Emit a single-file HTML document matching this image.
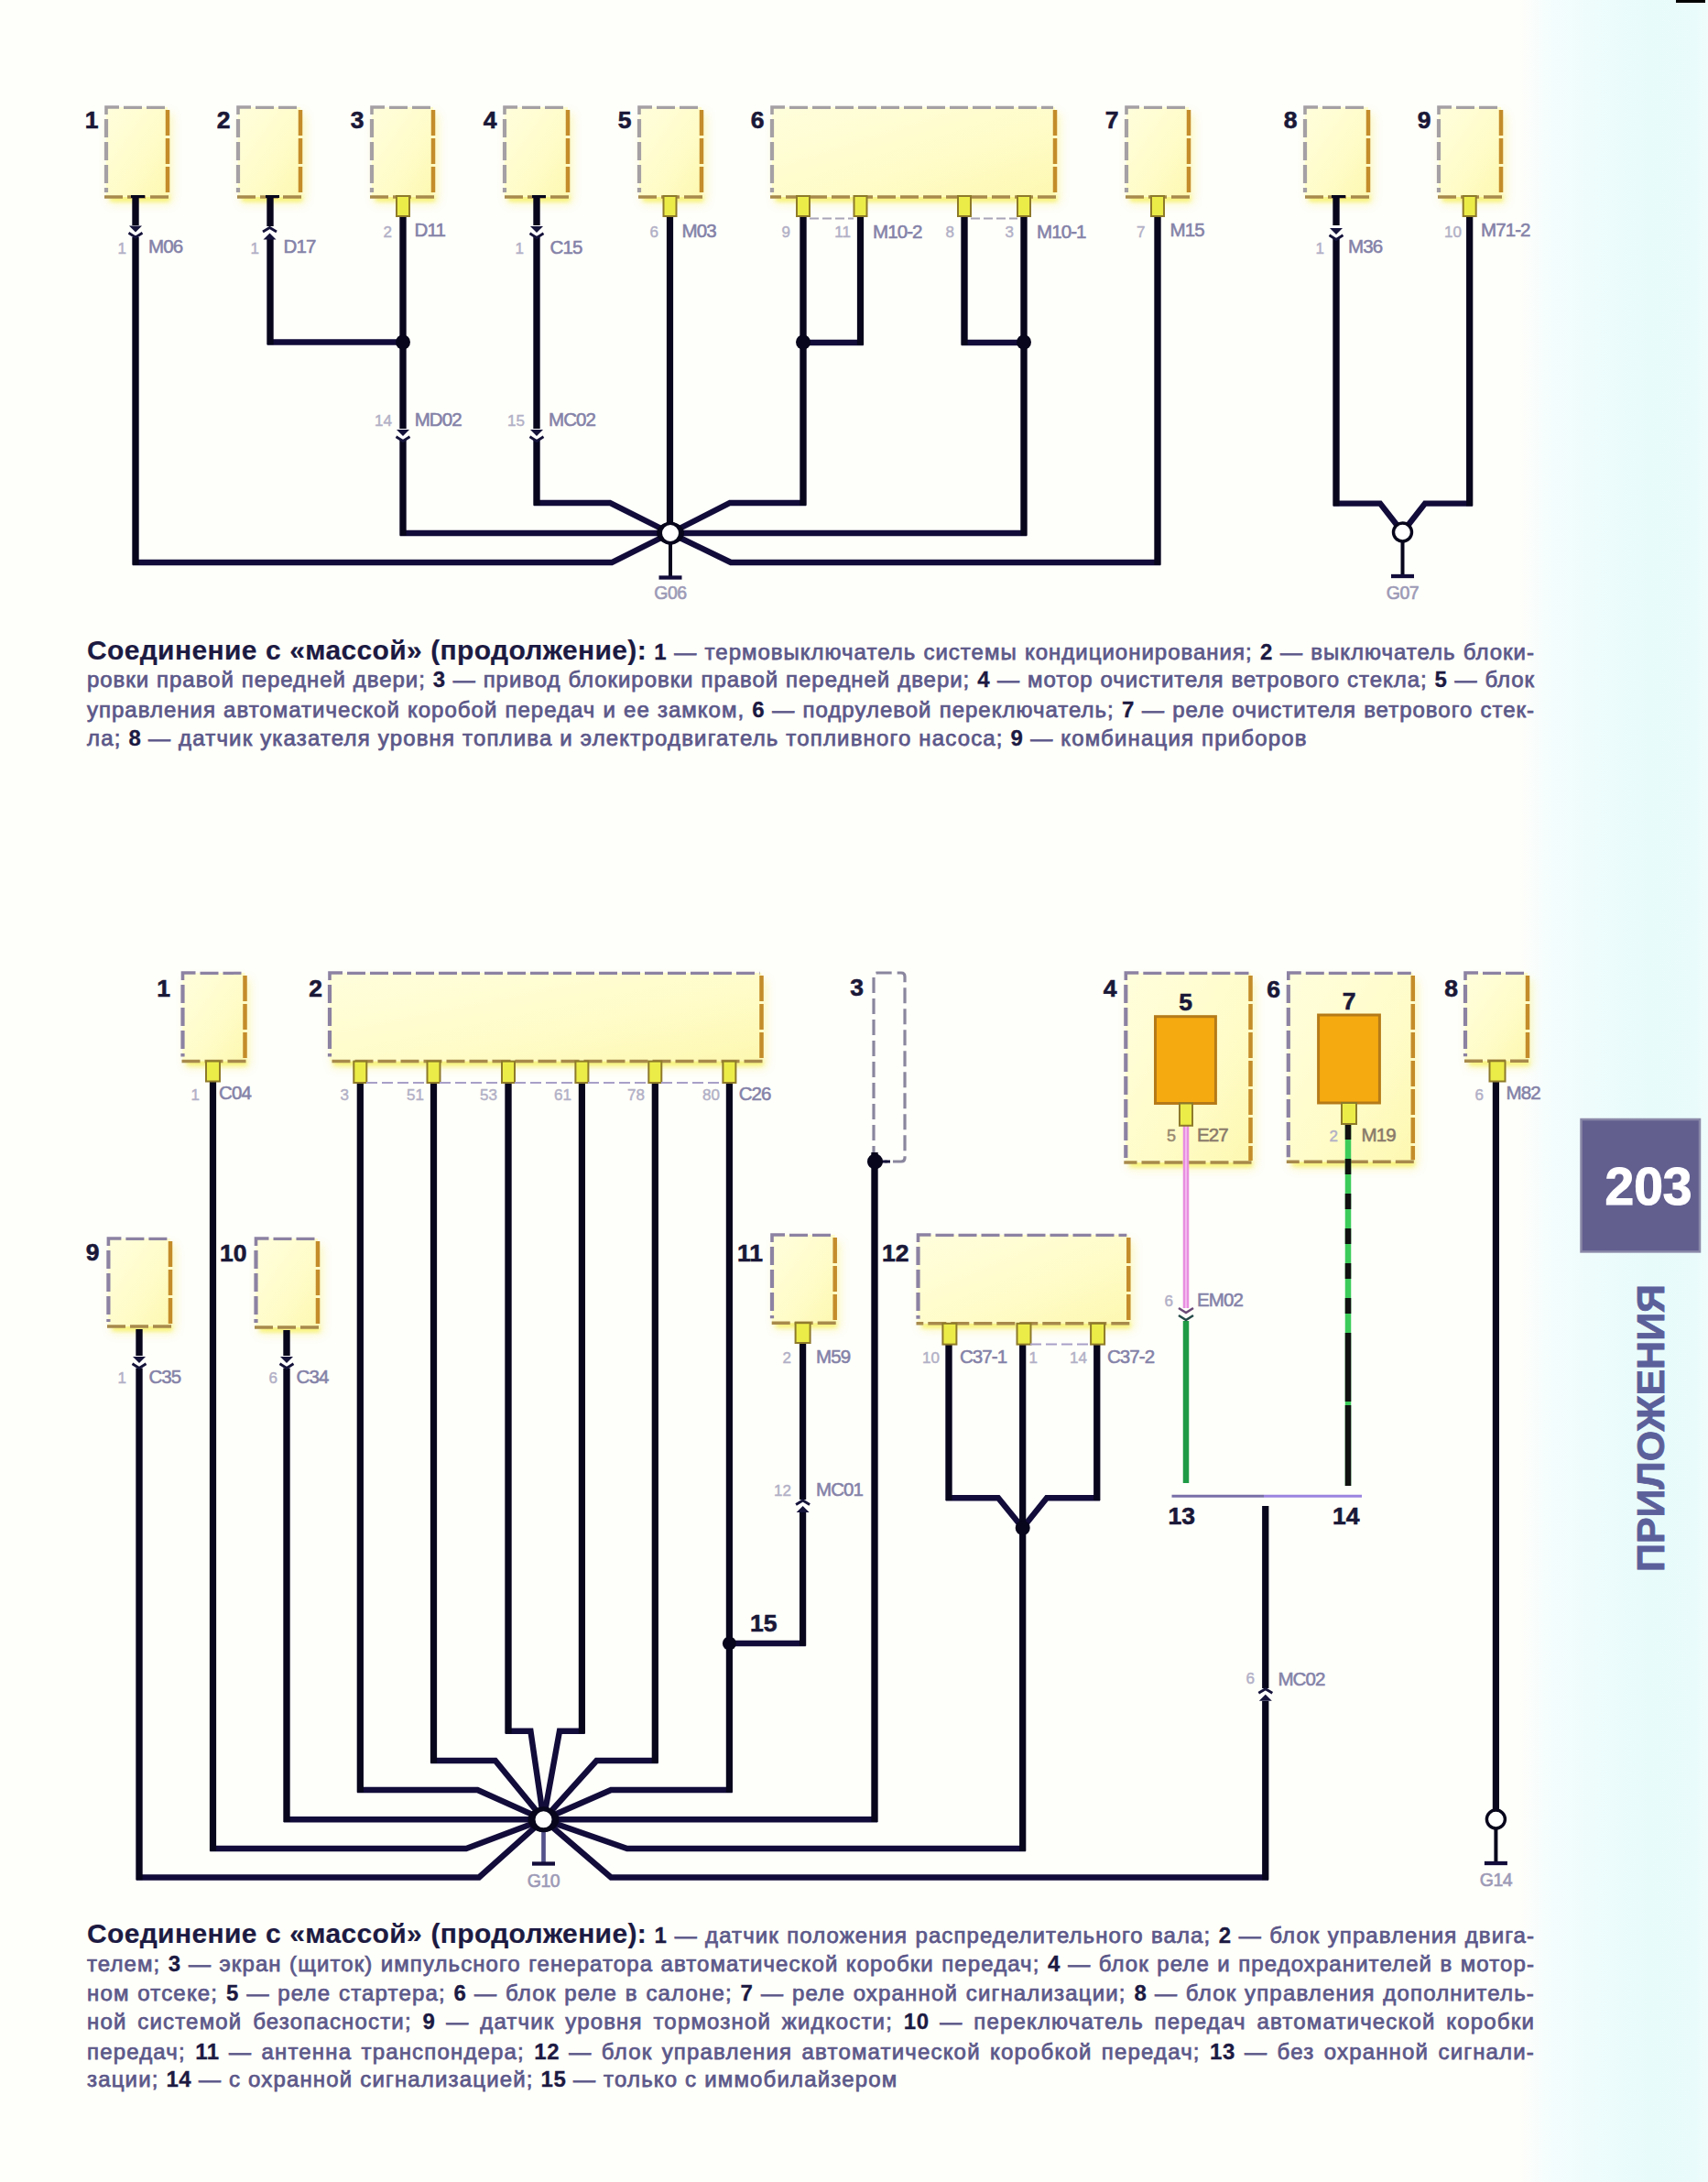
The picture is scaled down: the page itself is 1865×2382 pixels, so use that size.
<!DOCTYPE html>
<html><head><meta charset="utf-8">
<style>
html,body{margin:0;padding:0;}
body{width:1865px;height:2382px;overflow:hidden;position:relative;
background:linear-gradient(90deg,#fefefa 0px,#fefefa 1660px,#f5fdfd 1688px,#eefcfc 1740px,#e8fbfb 1800px,#e9fbfb 1850px,#f0fcfc 1865px);
font-family:"Liberation Sans",sans-serif;}
svg{position:absolute;left:0;top:0;}
.nb{font:bold 26.5px "Liberation Sans",sans-serif;fill:#1a1838;stroke:#1a1838;stroke-width:0.6px;}
.cl{font:20.5px "Liberation Sans",sans-serif;fill:#8482a8;stroke:#8482a8;stroke-width:0.55px;letter-spacing:-0.9px;}
.clb{font:20.5px "Liberation Sans",sans-serif;fill:#8a7a6a;stroke:#8a7a6a;stroke-width:0.55px;letter-spacing:-0.9px;}
.pn{font:17px "Liberation Sans",sans-serif;fill:#b2b0c6;stroke:#b2b0c6;stroke-width:0.45px;}
.pnb{font:18px "Liberation Sans",sans-serif;fill:#9a8a70;stroke:#9a8a70;stroke-width:0.5px;}
.gl{font:19.5px "Liberation Sans",sans-serif;fill:#9c9ab6;stroke:#9c9ab6;stroke-width:0.6px;letter-spacing:-0.5px;}
.pg{font:bold 57px "Liberation Sans",sans-serif;fill:#ffffff;stroke:#ffffff;stroke-width:1.2px;}
.vt{font:bold 43px "Liberation Sans",sans-serif;fill:#5b5f9a;stroke:#5b5f9a;stroke-width:0.8px;}
.ln{position:absolute;left:95px;width:1581px;height:30px;line-height:30px;white-space:nowrap;
font-size:24px;color:#5c5889;letter-spacing:1.17px;-webkit-text-stroke:0.75px #5c5889;}
.bm{display:inline-block;width:0;height:0;}
.ln.full{text-align:justify;text-align-last:justify;white-space:normal;}
.ln b{color:#1c1a42;font-weight:bold;-webkit-text-stroke:0.3px #1c1a42;letter-spacing:0.5px;}
.ln b.h{font-size:30px;letter-spacing:0.35px;-webkit-text-stroke:0.2px #1c1a42;}
</style></head><body>
<svg width="1865" height="2382" viewBox="0 0 1865 2382">
<defs>
<linearGradient id="boxfill" x1="0" y1="0" x2="1" y2="1">
<stop offset="0" stop-color="#fffedc"/><stop offset="0.6" stop-color="#fffcc8"/><stop offset="1" stop-color="#fdf8b0"/>
</linearGradient>
<filter id="blur6" x="-20%" y="-20%" width="140%" height="140%"><feGaussianBlur stdDeviation="5"/></filter>
<filter id="blur2" x="-20%" y="-50%" width="140%" height="200%"><feGaussianBlur stdDeviation="2"/></filter>
</defs>
<rect x="118" y="123" width="71" height="100" rx="6" fill="#f6ee60" opacity="0.35" filter="url(#blur6)"/>
<rect x="120" y="214" width="65" height="6" fill="#f4ec30" opacity="0.55" filter="url(#blur2)"/>
<rect x="116" y="117" width="67" height="98" fill="url(#boxfill)"/>
<path d="M116,125 L116,117 L130,117" stroke="#a4a0a4" stroke-width="3.6" fill="none"/>
<path d="M116,130 L116,210" stroke="#a4a0a4" stroke-width="4.2" fill="none" stroke-dasharray="20 5"/>
<path d="M135,117.3 L181,117.3" stroke="#a4a0a4" stroke-width="3.2" fill="none" stroke-dasharray="20 5"/>
<path d="M183,120 L183,213" stroke="#c48c2a" stroke-width="4.5" fill="none" stroke-dasharray="28 3"/>
<path d="M184,215 L114,215" stroke="#a88a4c" stroke-width="3.6" fill="none" stroke-dasharray="20 5"/>
<text x="107.5" y="139.5" text-anchor="end" class="nb">1</text>
<rect x="262" y="123" width="72" height="100" rx="6" fill="#f6ee60" opacity="0.35" filter="url(#blur6)"/>
<rect x="264" y="214" width="66" height="6" fill="#f4ec30" opacity="0.55" filter="url(#blur2)"/>
<rect x="260" y="117" width="68" height="98" fill="url(#boxfill)"/>
<path d="M260,125 L260,117 L274,117" stroke="#a4a0a4" stroke-width="3.6" fill="none"/>
<path d="M260,130 L260,210" stroke="#a4a0a4" stroke-width="4.2" fill="none" stroke-dasharray="20 5"/>
<path d="M279,117.3 L326,117.3" stroke="#a4a0a4" stroke-width="3.2" fill="none" stroke-dasharray="20 5"/>
<path d="M328,120 L328,213" stroke="#c48c2a" stroke-width="4.5" fill="none" stroke-dasharray="28 3"/>
<path d="M329,215 L258,215" stroke="#a88a4c" stroke-width="3.6" fill="none" stroke-dasharray="20 5"/>
<text x="251.5" y="139.5" text-anchor="end" class="nb">2</text>
<rect x="408" y="123" width="71" height="100" rx="6" fill="#f6ee60" opacity="0.35" filter="url(#blur6)"/>
<rect x="410" y="214" width="65" height="6" fill="#f4ec30" opacity="0.55" filter="url(#blur2)"/>
<rect x="406" y="117" width="67" height="98" fill="url(#boxfill)"/>
<path d="M406,125 L406,117 L420,117" stroke="#a4a0a4" stroke-width="3.6" fill="none"/>
<path d="M406,130 L406,210" stroke="#a4a0a4" stroke-width="4.2" fill="none" stroke-dasharray="20 5"/>
<path d="M425,117.3 L471,117.3" stroke="#a4a0a4" stroke-width="3.2" fill="none" stroke-dasharray="20 5"/>
<path d="M473,120 L473,213" stroke="#c48c2a" stroke-width="4.5" fill="none" stroke-dasharray="28 3"/>
<path d="M474,215 L404,215" stroke="#a88a4c" stroke-width="3.6" fill="none" stroke-dasharray="20 5"/>
<text x="397.5" y="139.5" text-anchor="end" class="nb">3</text>
<rect x="553" y="123" width="73" height="100" rx="6" fill="#f6ee60" opacity="0.35" filter="url(#blur6)"/>
<rect x="555" y="214" width="67" height="6" fill="#f4ec30" opacity="0.55" filter="url(#blur2)"/>
<rect x="551" y="117" width="69" height="98" fill="url(#boxfill)"/>
<path d="M551,125 L551,117 L565,117" stroke="#a4a0a4" stroke-width="3.6" fill="none"/>
<path d="M551,130 L551,210" stroke="#a4a0a4" stroke-width="4.2" fill="none" stroke-dasharray="20 5"/>
<path d="M570,117.3 L618,117.3" stroke="#a4a0a4" stroke-width="3.2" fill="none" stroke-dasharray="20 5"/>
<path d="M620,120 L620,213" stroke="#c48c2a" stroke-width="4.5" fill="none" stroke-dasharray="28 3"/>
<path d="M621,215 L549,215" stroke="#a88a4c" stroke-width="3.6" fill="none" stroke-dasharray="20 5"/>
<text x="542.5" y="139.5" text-anchor="end" class="nb">4</text>
<rect x="700" y="123" width="72" height="100" rx="6" fill="#f6ee60" opacity="0.35" filter="url(#blur6)"/>
<rect x="702" y="214" width="66" height="6" fill="#f4ec30" opacity="0.55" filter="url(#blur2)"/>
<rect x="698" y="117" width="68" height="98" fill="url(#boxfill)"/>
<path d="M698,125 L698,117 L712,117" stroke="#a4a0a4" stroke-width="3.6" fill="none"/>
<path d="M698,130 L698,210" stroke="#a4a0a4" stroke-width="4.2" fill="none" stroke-dasharray="20 5"/>
<path d="M717,117.3 L764,117.3" stroke="#a4a0a4" stroke-width="3.2" fill="none" stroke-dasharray="20 5"/>
<path d="M766,120 L766,213" stroke="#c48c2a" stroke-width="4.5" fill="none" stroke-dasharray="28 3"/>
<path d="M767,215 L696,215" stroke="#a88a4c" stroke-width="3.6" fill="none" stroke-dasharray="20 5"/>
<text x="689.5" y="139.5" text-anchor="end" class="nb">5</text>
<rect x="845" y="123" width="313" height="100" rx="6" fill="#f6ee60" opacity="0.35" filter="url(#blur6)"/>
<rect x="847" y="214" width="307" height="6" fill="#f4ec30" opacity="0.55" filter="url(#blur2)"/>
<rect x="843" y="117" width="309" height="98" fill="url(#boxfill)"/>
<path d="M843,125 L843,117 L857,117" stroke="#a4a0a4" stroke-width="3.6" fill="none"/>
<path d="M843,130 L843,210" stroke="#a4a0a4" stroke-width="4.2" fill="none" stroke-dasharray="20 5"/>
<path d="M862,117.3 L1150,117.3" stroke="#a4a0a4" stroke-width="3.2" fill="none" stroke-dasharray="20 5"/>
<path d="M1152,120 L1152,213" stroke="#c48c2a" stroke-width="4.5" fill="none" stroke-dasharray="28 3"/>
<path d="M1153,215 L841,215" stroke="#a88a4c" stroke-width="3.6" fill="none" stroke-dasharray="20 5"/>
<text x="834.5" y="139.5" text-anchor="end" class="nb">6</text>
<rect x="1232" y="123" width="72" height="100" rx="6" fill="#f6ee60" opacity="0.35" filter="url(#blur6)"/>
<rect x="1234" y="214" width="66" height="6" fill="#f4ec30" opacity="0.55" filter="url(#blur2)"/>
<rect x="1230" y="117" width="68" height="98" fill="url(#boxfill)"/>
<path d="M1230,125 L1230,117 L1244,117" stroke="#a4a0a4" stroke-width="3.6" fill="none"/>
<path d="M1230,130 L1230,210" stroke="#a4a0a4" stroke-width="4.2" fill="none" stroke-dasharray="20 5"/>
<path d="M1249,117.3 L1296,117.3" stroke="#a4a0a4" stroke-width="3.2" fill="none" stroke-dasharray="20 5"/>
<path d="M1298,120 L1298,213" stroke="#c48c2a" stroke-width="4.5" fill="none" stroke-dasharray="28 3"/>
<path d="M1299,215 L1228,215" stroke="#a88a4c" stroke-width="3.6" fill="none" stroke-dasharray="20 5"/>
<text x="1221.5" y="139.5" text-anchor="end" class="nb">7</text>
<rect x="1427" y="123" width="73" height="100" rx="6" fill="#f6ee60" opacity="0.35" filter="url(#blur6)"/>
<rect x="1429" y="214" width="67" height="6" fill="#f4ec30" opacity="0.55" filter="url(#blur2)"/>
<rect x="1425" y="117" width="69" height="98" fill="url(#boxfill)"/>
<path d="M1425,125 L1425,117 L1439,117" stroke="#a4a0a4" stroke-width="3.6" fill="none"/>
<path d="M1425,130 L1425,210" stroke="#a4a0a4" stroke-width="4.2" fill="none" stroke-dasharray="20 5"/>
<path d="M1444,117.3 L1492,117.3" stroke="#a4a0a4" stroke-width="3.2" fill="none" stroke-dasharray="20 5"/>
<path d="M1494,120 L1494,213" stroke="#c48c2a" stroke-width="4.5" fill="none" stroke-dasharray="28 3"/>
<path d="M1495,215 L1423,215" stroke="#a88a4c" stroke-width="3.6" fill="none" stroke-dasharray="20 5"/>
<text x="1416.5" y="139.5" text-anchor="end" class="nb">8</text>
<rect x="1573" y="123" width="72" height="100" rx="6" fill="#f6ee60" opacity="0.35" filter="url(#blur6)"/>
<rect x="1575" y="214" width="66" height="6" fill="#f4ec30" opacity="0.55" filter="url(#blur2)"/>
<rect x="1571" y="117" width="68" height="98" fill="url(#boxfill)"/>
<path d="M1571,125 L1571,117 L1585,117" stroke="#a4a0a4" stroke-width="3.6" fill="none"/>
<path d="M1571,130 L1571,210" stroke="#a4a0a4" stroke-width="4.2" fill="none" stroke-dasharray="20 5"/>
<path d="M1590,117.3 L1637,117.3" stroke="#a4a0a4" stroke-width="3.2" fill="none" stroke-dasharray="20 5"/>
<path d="M1639,120 L1639,213" stroke="#c48c2a" stroke-width="4.5" fill="none" stroke-dasharray="28 3"/>
<path d="M1640,215 L1569,215" stroke="#a88a4c" stroke-width="3.6" fill="none" stroke-dasharray="20 5"/>
<text x="1562.5" y="139.5" text-anchor="end" class="nb">9</text>
<polyline points="148,213 148,614 668,614 732,582" fill="none" stroke="#120c3a" stroke-width="6.4" stroke-linejoin="miter" stroke-linecap="butt"/>
<rect x="144.40" y="213.00" width="7.2" height="403.70" fill="#07061c"/>
<polyline points="295,213 295,373.5 440,373.5" fill="none" stroke="#120c3a" stroke-width="6.4" stroke-linejoin="miter" stroke-linecap="butt"/>
<rect x="291.40" y="213.00" width="7.2" height="163.20" fill="#07061c"/>
<polyline points="440,236 440,582 732,582" fill="none" stroke="#120c3a" stroke-width="6.4" stroke-linejoin="miter" stroke-linecap="butt"/>
<rect x="436.40" y="236.00" width="7.2" height="348.70" fill="#07061c"/>
<polyline points="586,213 586,549 666,549 732,582" fill="none" stroke="#120c3a" stroke-width="6.4" stroke-linejoin="miter" stroke-linecap="butt"/>
<rect x="582.40" y="213.00" width="7.2" height="338.70" fill="#07061c"/>
<polyline points="731.5,236 731.5,582" fill="none" stroke="#120c3a" stroke-width="6.4" stroke-linejoin="miter" stroke-linecap="butt"/>
<rect x="727.90" y="236.00" width="7.2" height="346.00" fill="#07061c"/>
<polyline points="877,236 877,549 797,549 732,582" fill="none" stroke="#120c3a" stroke-width="6.4" stroke-linejoin="miter" stroke-linecap="butt"/>
<rect x="873.40" y="236.00" width="7.2" height="315.70" fill="#07061c"/>
<polyline points="939.5,236 939.5,374 877,374" fill="none" stroke="#120c3a" stroke-width="6.4" stroke-linejoin="miter" stroke-linecap="butt"/>
<rect x="935.90" y="236.00" width="7.2" height="140.70" fill="#07061c"/>
<polyline points="1053,236 1053,374 1118,374" fill="none" stroke="#120c3a" stroke-width="6.4" stroke-linejoin="miter" stroke-linecap="butt"/>
<rect x="1049.40" y="236.00" width="7.2" height="140.70" fill="#07061c"/>
<polyline points="1118,236 1118,582 732,582" fill="none" stroke="#120c3a" stroke-width="6.4" stroke-linejoin="miter" stroke-linecap="butt"/>
<rect x="1114.40" y="236.00" width="7.2" height="348.70" fill="#07061c"/>
<polyline points="1264,236 1264,614 798,614 732,582" fill="none" stroke="#120c3a" stroke-width="6.4" stroke-linejoin="miter" stroke-linecap="butt"/>
<rect x="1260.40" y="236.00" width="7.2" height="380.70" fill="#07061c"/>
<polyline points="1459,213 1459,549.6 1507,549.6 1531.5,581" fill="none" stroke="#120c3a" stroke-width="6.4" stroke-linejoin="miter" stroke-linecap="butt"/>
<rect x="1455.40" y="213.00" width="7.2" height="339.30" fill="#07061c"/>
<polyline points="1604.7,236 1604.7,549.6 1556,549.6 1531.5,581" fill="none" stroke="#120c3a" stroke-width="6.4" stroke-linejoin="miter" stroke-linecap="butt"/>
<rect x="1601.10" y="236.00" width="7.2" height="316.30" fill="#07061c"/>
<rect x="143" y="213.0" width="15" height="3" fill="#07061c"/>
<rect x="290" y="213.0" width="15" height="3" fill="#07061c"/>
<rect x="581" y="213.0" width="15" height="3" fill="#07061c"/>
<rect x="1454" y="213.0" width="15" height="3" fill="#07061c"/>
<rect x="433.0" y="214" width="14" height="22" fill="#ecec48" stroke="#8e7a2a" stroke-width="2"/>
<rect x="724.5" y="214" width="14" height="22" fill="#ecec48" stroke="#8e7a2a" stroke-width="2"/>
<rect x="870.0" y="214" width="14" height="22" fill="#ecec48" stroke="#8e7a2a" stroke-width="2"/>
<rect x="932.5" y="214" width="14" height="22" fill="#ecec48" stroke="#8e7a2a" stroke-width="2"/>
<rect x="1046.0" y="214" width="14" height="22" fill="#ecec48" stroke="#8e7a2a" stroke-width="2"/>
<rect x="1111.0" y="214" width="14" height="22" fill="#ecec48" stroke="#8e7a2a" stroke-width="2"/>
<rect x="1257.0" y="214" width="14" height="22" fill="#ecec48" stroke="#8e7a2a" stroke-width="2"/>
<rect x="1597.7" y="214" width="14" height="22" fill="#ecec48" stroke="#8e7a2a" stroke-width="2"/>
<path d="M884,238.5 L932,238.5 M1060,238.5 L1111,238.5" stroke="#a8a4b8" stroke-width="2" stroke-dasharray="10 4" fill="none"/>
<circle cx="440" cy="373.5" r="8" fill="#07061c"/>
<circle cx="877" cy="373.5" r="8" fill="#07061c"/>
<circle cx="1118" cy="373.5" r="8" fill="#07061c"/>
<rect x="143" y="246" width="10" height="13" fill="#ffffff"/>
<path d="M141,246.5 L155,246.5 L148,253.5 Z" fill="#15133a"/>
<path d="M140.5,254.3 L148,259.0 L155.5,254.3" fill="none" stroke="#15133a" stroke-width="2.8"/>
<rect x="289.5" y="247" width="10" height="13" fill="#ffffff"/>
<path d="M287.0,253.0 L294.5,248.5 L302.0,253.0" fill="none" stroke="#15133a" stroke-width="2.8"/>
<path d="M287.5,261.5 L301.5,261.5 L294.5,254.5 Z" fill="#15133a"/>
<rect x="581" y="246" width="10" height="12" fill="#ffffff"/>
<path d="M579,247 L593,247 L586,254 Z" fill="#15133a"/>
<path d="M578.5,254.8 L586,259.5 L593.5,254.8" fill="none" stroke="#15133a" stroke-width="2.8"/>
<rect x="435" y="468" width="10" height="12" fill="#ffffff"/>
<path d="M433,469 L447,469 L440,476 Z" fill="#15133a"/>
<path d="M432.5,476.8 L440,481.5 L447.5,476.8" fill="none" stroke="#15133a" stroke-width="2.8"/>
<rect x="581" y="468" width="10" height="12" fill="#ffffff"/>
<path d="M579,469 L593,469 L586,476 Z" fill="#15133a"/>
<path d="M578.5,476.8 L586,481.5 L593.5,476.8" fill="none" stroke="#15133a" stroke-width="2.8"/>
<rect x="1454" y="246" width="10" height="14" fill="#ffffff"/>
<path d="M1452,249 L1466,249 L1459,256 Z" fill="#15133a"/>
<path d="M1451.5,256.8 L1459,261.5 L1466.5,256.8" fill="none" stroke="#15133a" stroke-width="2.8"/>
<line x1="732" y1="582" x2="732" y2="630.5" stroke="#07061c" stroke-width="4"/>
<ellipse cx="732" cy="582" rx="15" ry="12.0" fill="#07061c"/>
<rect x="719.5" y="628.35" width="25.0" height="4.3" fill="#120c3a"/>
<circle cx="732" cy="582" r="10.8" fill="#ffffff" stroke="#07061c" stroke-width="3.6"/>
<text x="732" y="654" text-anchor="middle" class="gl">G06</text>
<line x1="1531.5" y1="581" x2="1531.5" y2="629" stroke="#07061c" stroke-width="4"/>
<rect x="1519.0" y="626.85" width="25.0" height="4.3" fill="#120c3a"/>
<circle cx="1531.5" cy="581" r="10" fill="#ffffff" stroke="#07061c" stroke-width="3.4"/>
<text x="1531.5" y="654" text-anchor="middle" class="gl">G07</text>
<text x="162" y="275.5" class="cl">M06</text>
<text x="138" y="277" text-anchor="end" class="pn">1</text>
<text x="309.6" y="276" class="cl">D17</text>
<text x="283" y="277" text-anchor="end" class="pn">1</text>
<text x="452.5" y="257.5" class="cl">D11</text>
<text x="428" y="259" text-anchor="end" class="pn">2</text>
<text x="600.6" y="276.8" class="cl">C15</text>
<text x="572" y="277" text-anchor="end" class="pn">1</text>
<text x="744.6" y="259.2" class="cl">M03</text>
<text x="719" y="259" text-anchor="end" class="pn">6</text>
<text x="953" y="259.5" class="cl">M10-2</text>
<text x="863" y="259" text-anchor="end" class="pn">9</text>
<text x="929" y="259" text-anchor="end" class="pn">11</text>
<text x="1132" y="259.5" class="cl">M10-1</text>
<text x="1042" y="259" text-anchor="end" class="pn">8</text>
<text x="1107" y="259" text-anchor="end" class="pn">3</text>
<text x="1277.6" y="258" class="cl">M15</text>
<text x="1250.5" y="259" text-anchor="end" class="pn">7</text>
<text x="1472" y="276" class="cl">M36</text>
<text x="1446" y="277" text-anchor="end" class="pn">1</text>
<text x="1617" y="258" class="cl">M71-2</text>
<text x="1596" y="259" text-anchor="end" class="pn">10</text>
<text x="452.7" y="465" class="cl">MD02</text>
<text x="428" y="465" text-anchor="end" class="pn">14</text>
<text x="599" y="465" class="cl">MC02</text>
<text x="573" y="465" text-anchor="end" class="pn">15</text>
<rect x="201.5" y="1068" width="72" height="98.5" rx="6" fill="#f6ee60" opacity="0.35" filter="url(#blur6)"/>
<rect x="203.5" y="1157.5" width="66" height="6" fill="#f4ec30" opacity="0.55" filter="url(#blur2)"/>
<rect x="199.5" y="1062" width="68" height="96.5" fill="url(#boxfill)"/>
<path d="M199.5,1070 L199.5,1062 L213.5,1062" stroke="#8c82a2" stroke-width="3.6" fill="none"/>
<path d="M199.5,1075 L199.5,1153.5" stroke="#8c82a2" stroke-width="4.2" fill="none" stroke-dasharray="20 5"/>
<path d="M218.5,1062.3 L265.5,1062.3" stroke="#8c82a2" stroke-width="3.2" fill="none" stroke-dasharray="20 5"/>
<path d="M267.5,1065 L267.5,1156.5" stroke="#c48c2a" stroke-width="4.5" fill="none" stroke-dasharray="28 3"/>
<path d="M268.5,1158.5 L197.5,1158.5" stroke="#a88a4c" stroke-width="3.6" fill="none" stroke-dasharray="20 5"/>
<text x="186" y="1088" text-anchor="end" class="nb">1</text>
<rect x="362" y="1068" width="475.5" height="98.5" rx="6" fill="#f6ee60" opacity="0.35" filter="url(#blur6)"/>
<rect x="364" y="1157.5" width="469.5" height="6" fill="#f4ec30" opacity="0.55" filter="url(#blur2)"/>
<rect x="360" y="1062" width="471.5" height="96.5" fill="url(#boxfill)"/>
<path d="M360,1070 L360,1062 L374,1062" stroke="#8c82a2" stroke-width="3.6" fill="none"/>
<path d="M360,1075 L360,1153.5" stroke="#8c82a2" stroke-width="4.2" fill="none" stroke-dasharray="20 5"/>
<path d="M379,1062.3 L829.5,1062.3" stroke="#8c82a2" stroke-width="3.2" fill="none" stroke-dasharray="20 5"/>
<path d="M831.5,1065 L831.5,1156.5" stroke="#c48c2a" stroke-width="4.5" fill="none" stroke-dasharray="28 3"/>
<path d="M832.5,1158.5 L358,1158.5" stroke="#a88a4c" stroke-width="3.6" fill="none" stroke-dasharray="20 5"/>
<text x="352" y="1088" text-anchor="end" class="nb">2</text>
<path d="M954,1268 L954,1066 Q954,1062 958,1062 L984,1062 Q988,1062 988,1066 L988,1264 Q988,1268 984,1268 L966,1268" stroke="#8a869e" stroke-width="3.2" fill="none" stroke-dasharray="17 6"/>
<text x="943" y="1087" text-anchor="end" class="nb">3</text>
<rect x="1231.3" y="1068" width="140.2" height="209" rx="6" fill="#f6ee60" opacity="0.35" filter="url(#blur6)"/>
<rect x="1233.3" y="1268" width="134.2" height="6" fill="#f4ec30" opacity="0.55" filter="url(#blur2)"/>
<rect x="1229.3" y="1062" width="136.2" height="207" fill="url(#boxfill)"/>
<path d="M1229.3,1070 L1229.3,1062 L1243.3,1062" stroke="#8c82a2" stroke-width="3.6" fill="none"/>
<path d="M1229.3,1075 L1229.3,1264" stroke="#8c82a2" stroke-width="4.2" fill="none" stroke-dasharray="20 5"/>
<path d="M1248.3,1062.3 L1363.5,1062.3" stroke="#8c82a2" stroke-width="3.2" fill="none" stroke-dasharray="20 5"/>
<path d="M1365.5,1065 L1365.5,1267" stroke="#c48c2a" stroke-width="4.5" fill="none" stroke-dasharray="28 3"/>
<path d="M1366.5,1269 L1227.3,1269" stroke="#a88a4c" stroke-width="3.6" fill="none" stroke-dasharray="20 5"/>
<text x="1219.5" y="1088" text-anchor="end" class="nb">4</text>
<rect x="1408.8" y="1068" width="140" height="208.3" rx="6" fill="#f6ee60" opacity="0.35" filter="url(#blur6)"/>
<rect x="1410.8" y="1267.3" width="134" height="6" fill="#f4ec30" opacity="0.55" filter="url(#blur2)"/>
<rect x="1406.8" y="1062" width="136" height="206.3" fill="url(#boxfill)"/>
<path d="M1406.8,1070 L1406.8,1062 L1420.8,1062" stroke="#8c82a2" stroke-width="3.6" fill="none"/>
<path d="M1406.8,1075 L1406.8,1263.3" stroke="#8c82a2" stroke-width="4.2" fill="none" stroke-dasharray="20 5"/>
<path d="M1425.8,1062.3 L1540.8,1062.3" stroke="#8c82a2" stroke-width="3.2" fill="none" stroke-dasharray="20 5"/>
<path d="M1542.8,1065 L1542.8,1266.3" stroke="#c48c2a" stroke-width="4.5" fill="none" stroke-dasharray="28 3"/>
<path d="M1543.8,1268.3 L1404.8,1268.3" stroke="#a88a4c" stroke-width="3.6" fill="none" stroke-dasharray="20 5"/>
<text x="1398" y="1089" text-anchor="end" class="nb">6</text>
<rect x="1602" y="1068" width="72" height="98.3" rx="6" fill="#f6ee60" opacity="0.35" filter="url(#blur6)"/>
<rect x="1604" y="1157.3" width="66" height="6" fill="#f4ec30" opacity="0.55" filter="url(#blur2)"/>
<rect x="1600" y="1062" width="68" height="96.3" fill="url(#boxfill)"/>
<path d="M1600,1070 L1600,1062 L1614,1062" stroke="#8c82a2" stroke-width="3.6" fill="none"/>
<path d="M1600,1075 L1600,1153.3" stroke="#8c82a2" stroke-width="4.2" fill="none" stroke-dasharray="20 5"/>
<path d="M1619,1062.3 L1666,1062.3" stroke="#8c82a2" stroke-width="3.2" fill="none" stroke-dasharray="20 5"/>
<path d="M1668,1065 L1668,1156.3" stroke="#c48c2a" stroke-width="4.5" fill="none" stroke-dasharray="28 3"/>
<path d="M1669,1158.3 L1598,1158.3" stroke="#a88a4c" stroke-width="3.6" fill="none" stroke-dasharray="20 5"/>
<text x="1592" y="1088" text-anchor="end" class="nb">8</text>
<rect x="120.4" y="1358" width="71.6" height="98" rx="6" fill="#f6ee60" opacity="0.35" filter="url(#blur6)"/>
<rect x="122.4" y="1447" width="65.6" height="6" fill="#f4ec30" opacity="0.55" filter="url(#blur2)"/>
<rect x="118.4" y="1352" width="67.6" height="96" fill="url(#boxfill)"/>
<path d="M118.4,1360 L118.4,1352 L132.4,1352" stroke="#8c82a2" stroke-width="3.6" fill="none"/>
<path d="M118.4,1365 L118.4,1443" stroke="#8c82a2" stroke-width="4.2" fill="none" stroke-dasharray="20 5"/>
<path d="M137.4,1352.3 L184.0,1352.3" stroke="#8c82a2" stroke-width="3.2" fill="none" stroke-dasharray="20 5"/>
<path d="M186.0,1355 L186.0,1446" stroke="#c48c2a" stroke-width="4.5" fill="none" stroke-dasharray="28 3"/>
<path d="M187.0,1448 L116.4,1448" stroke="#a88a4c" stroke-width="3.6" fill="none" stroke-dasharray="20 5"/>
<text x="108.5" y="1376" text-anchor="end" class="nb">9</text>
<rect x="281.5" y="1358" width="71.5" height="99" rx="6" fill="#f6ee60" opacity="0.35" filter="url(#blur6)"/>
<rect x="283.5" y="1448" width="65.5" height="6" fill="#f4ec30" opacity="0.55" filter="url(#blur2)"/>
<rect x="279.5" y="1352" width="67.5" height="97" fill="url(#boxfill)"/>
<path d="M279.5,1360 L279.5,1352 L293.5,1352" stroke="#8c82a2" stroke-width="3.6" fill="none"/>
<path d="M279.5,1365 L279.5,1444" stroke="#8c82a2" stroke-width="4.2" fill="none" stroke-dasharray="20 5"/>
<path d="M298.5,1352.3 L345.0,1352.3" stroke="#8c82a2" stroke-width="3.2" fill="none" stroke-dasharray="20 5"/>
<path d="M347.0,1355 L347.0,1447" stroke="#c48c2a" stroke-width="4.5" fill="none" stroke-dasharray="28 3"/>
<path d="M348.0,1449 L277.5,1449" stroke="#a88a4c" stroke-width="3.6" fill="none" stroke-dasharray="20 5"/>
<text x="269.5" y="1377" text-anchor="end" class="nb">10</text>
<rect x="845" y="1354" width="72.7" height="98.2" rx="6" fill="#f6ee60" opacity="0.35" filter="url(#blur6)"/>
<rect x="847" y="1443.2" width="66.7" height="6" fill="#f4ec30" opacity="0.55" filter="url(#blur2)"/>
<rect x="843" y="1348" width="68.7" height="96.2" fill="url(#boxfill)"/>
<path d="M843,1356 L843,1348 L857,1348" stroke="#8c82a2" stroke-width="3.6" fill="none"/>
<path d="M843,1361 L843,1439.2" stroke="#8c82a2" stroke-width="4.2" fill="none" stroke-dasharray="20 5"/>
<path d="M862,1348.3 L909.7,1348.3" stroke="#8c82a2" stroke-width="3.2" fill="none" stroke-dasharray="20 5"/>
<path d="M911.7,1351 L911.7,1442.2" stroke="#c48c2a" stroke-width="4.5" fill="none" stroke-dasharray="28 3"/>
<path d="M912.7,1444.2 L841,1444.2" stroke="#a88a4c" stroke-width="3.6" fill="none" stroke-dasharray="20 5"/>
<text x="833" y="1377" text-anchor="end" class="nb">11</text>
<rect x="1004.5" y="1354" width="233.8" height="98.8" rx="6" fill="#f6ee60" opacity="0.35" filter="url(#blur6)"/>
<rect x="1006.5" y="1443.8" width="227.8" height="6" fill="#f4ec30" opacity="0.55" filter="url(#blur2)"/>
<rect x="1002.5" y="1348" width="229.8" height="96.8" fill="url(#boxfill)"/>
<path d="M1002.5,1356 L1002.5,1348 L1016.5,1348" stroke="#8c82a2" stroke-width="3.6" fill="none"/>
<path d="M1002.5,1361 L1002.5,1439.8" stroke="#8c82a2" stroke-width="4.2" fill="none" stroke-dasharray="20 5"/>
<path d="M1021.5,1348.3 L1230.3,1348.3" stroke="#8c82a2" stroke-width="3.2" fill="none" stroke-dasharray="20 5"/>
<path d="M1232.3,1351 L1232.3,1442.8" stroke="#c48c2a" stroke-width="4.5" fill="none" stroke-dasharray="28 3"/>
<path d="M1233.3,1444.8 L1000.5,1444.8" stroke="#a88a4c" stroke-width="3.6" fill="none" stroke-dasharray="20 5"/>
<text x="992.5" y="1377" text-anchor="end" class="nb">12</text>
<rect x="1261.5" y="1109.7" width="65.9" height="94.8" fill="#f5aa10" stroke="#b57a18" stroke-width="3"/>
<rect x="1439.6" y="1108" width="66.8" height="96" fill="#f5aa10" stroke="#b57a18" stroke-width="3"/>
<text x="1294.5" y="1103" text-anchor="middle" class="nb">5</text>
<text x="1473" y="1102" text-anchor="middle" class="nb">7</text>
<polyline points="232.5,1180 232.5,2018 509,2018 593.5,1986.3" fill="none" stroke="#120c3a" stroke-width="6.4" stroke-linejoin="miter" stroke-linecap="butt"/>
<rect x="228.90" y="1180.00" width="7.2" height="840.70" fill="#07061c"/>
<polyline points="152,1451 152,2049.5 523,2049.5 593.5,1986.3" fill="none" stroke="#120c3a" stroke-width="6.4" stroke-linejoin="miter" stroke-linecap="butt"/>
<rect x="148.40" y="1451.00" width="7.2" height="601.20" fill="#07061c"/>
<polyline points="313,1452 313,1986.3 593.5,1986.3" fill="none" stroke="#120c3a" stroke-width="6.4" stroke-linejoin="miter" stroke-linecap="butt"/>
<rect x="309.40" y="1452.00" width="7.2" height="537.00" fill="#07061c"/>
<polyline points="393.3,1182 393.3,1954 521.4,1954 593.5,1986.3" fill="none" stroke="#120c3a" stroke-width="6.4" stroke-linejoin="miter" stroke-linecap="butt"/>
<rect x="389.70" y="1182.00" width="7.2" height="774.70" fill="#07061c"/>
<polyline points="473.5,1182 473.5,1922 540.8,1922 593.5,1986.3" fill="none" stroke="#120c3a" stroke-width="6.4" stroke-linejoin="miter" stroke-linecap="butt"/>
<rect x="469.90" y="1182.00" width="7.2" height="742.70" fill="#07061c"/>
<polyline points="555,1182 555,1889.7 579.4,1889.7 593.5,1986.3" fill="none" stroke="#120c3a" stroke-width="6.4" stroke-linejoin="miter" stroke-linecap="butt"/>
<rect x="551.40" y="1182.00" width="7.2" height="710.40" fill="#07061c"/>
<polyline points="635.4,1182 635.4,1889.7 611,1889.7 593.5,1986.3" fill="none" stroke="#120c3a" stroke-width="6.4" stroke-linejoin="miter" stroke-linecap="butt"/>
<rect x="631.80" y="1182.00" width="7.2" height="710.40" fill="#07061c"/>
<polyline points="715.3,1182 715.3,1922 651.4,1922 593.5,1986.3" fill="none" stroke="#120c3a" stroke-width="6.4" stroke-linejoin="miter" stroke-linecap="butt"/>
<rect x="711.70" y="1182.00" width="7.2" height="742.70" fill="#07061c"/>
<polyline points="796.4,1182 796.4,1954 667.2,1954 593.5,1986.3" fill="none" stroke="#120c3a" stroke-width="6.4" stroke-linejoin="miter" stroke-linecap="butt"/>
<rect x="792.80" y="1182.00" width="7.2" height="774.70" fill="#07061c"/>
<polyline points="796.4,1794 876.6,1794 876.6,1466" fill="none" stroke="#120c3a" stroke-width="6.4" stroke-linejoin="miter" stroke-linecap="butt"/>
<rect x="873.00" y="1466.00" width="7.2" height="330.70" fill="#07061c"/>
<polyline points="955,1258 955,1986.3 593.5,1986.3" fill="none" stroke="#120c3a" stroke-width="6.4" stroke-linejoin="miter" stroke-linecap="butt"/>
<rect x="951.40" y="1258.00" width="7.2" height="731.00" fill="#07061c"/>
<polyline points="1036,1467 1036,1635.3 1090,1635.3 1116.7,1668" fill="none" stroke="#120c3a" stroke-width="6.4" stroke-linejoin="miter" stroke-linecap="butt"/>
<rect x="1032.40" y="1467.00" width="7.2" height="171.00" fill="#07061c"/>
<polyline points="1197.8,1467 1197.8,1635.3 1143,1635.3 1116.7,1668" fill="none" stroke="#120c3a" stroke-width="6.4" stroke-linejoin="miter" stroke-linecap="butt"/>
<rect x="1194.20" y="1467.00" width="7.2" height="171.00" fill="#07061c"/>
<polyline points="1116.7,1467 1116.7,2018 684.8,2018 593.5,1986.3" fill="none" stroke="#120c3a" stroke-width="6.4" stroke-linejoin="miter" stroke-linecap="butt"/>
<rect x="1113.10" y="1467.00" width="7.2" height="553.70" fill="#07061c"/>
<polyline points="1381.8,1644 1381.8,2049.5 667.2,2049.5 593.5,1986.3" fill="none" stroke="#120c3a" stroke-width="6.4" stroke-linejoin="miter" stroke-linecap="butt"/>
<rect x="1378.20" y="1644.00" width="7.2" height="408.20" fill="#07061c"/>
<polyline points="1633.4,1180 1633.4,1986" fill="none" stroke="#120c3a" stroke-width="6.4" stroke-linejoin="miter" stroke-linecap="butt"/>
<rect x="1629.80" y="1180.00" width="7.2" height="806.00" fill="#07061c"/>
<line x1="955" y1="1268" x2="972" y2="1268" stroke="#15133a" stroke-width="3"/>
<circle cx="955.5" cy="1268" r="8.5" fill="#07061c"/>
<circle cx="796.4" cy="1794" r="7.5" fill="#07061c"/>
<circle cx="1116.7" cy="1668" r="8" fill="#07061c"/>
<line x1="1295" y1="1228" x2="1295" y2="1428" stroke="#e88ee0" stroke-width="6.5"/>
<line x1="1295" y1="1228" x2="1295" y2="1428" stroke="#f4b8ee" stroke-width="2"/>
<line x1="1295" y1="1442" x2="1295" y2="1619" stroke="#1f9a45" stroke-width="6.5"/>
<path d="M1287,1428 L1295,1433 L1303,1428" fill="none" stroke="#6a4a78" stroke-width="2.6"/>
<path d="M1287,1436 L1295,1441 L1303,1436" fill="none" stroke="#234a48" stroke-width="2.6"/>
<line x1="1472" y1="1227" x2="1472" y2="1622" stroke="#3ccc5a" stroke-width="6.5"/>
<line x1="1472" y1="1227" x2="1472" y2="1470" stroke="#111" stroke-width="6.5" stroke-dasharray="17 21"/>
<line x1="1472" y1="1470" x2="1472" y2="1622" stroke="#111" stroke-width="6.5" stroke-dasharray="60 4 90 3"/>
<line x1="1279.5" y1="1633.2" x2="1380" y2="1633.2" stroke="#7a70a8" stroke-width="3"/>
<line x1="1380" y1="1633.2" x2="1487" y2="1633.2" stroke="#9a84e0" stroke-width="3"/>
<rect x="225.0" y="1158.5" width="15" height="22.0" fill="#ecec48" stroke="#8e7a2a" stroke-width="2"/>
<rect x="386.3" y="1158.6" width="14" height="23.40000000000009" fill="#ecec48" stroke="#8e7a2a" stroke-width="2"/>
<rect x="466.5" y="1158.6" width="14" height="23.40000000000009" fill="#ecec48" stroke="#8e7a2a" stroke-width="2"/>
<rect x="548.0" y="1158.6" width="14" height="23.40000000000009" fill="#ecec48" stroke="#8e7a2a" stroke-width="2"/>
<rect x="628.4" y="1158.6" width="14" height="23.40000000000009" fill="#ecec48" stroke="#8e7a2a" stroke-width="2"/>
<rect x="708.3" y="1158.6" width="14" height="23.40000000000009" fill="#ecec48" stroke="#8e7a2a" stroke-width="2"/>
<rect x="789.4" y="1158.6" width="14" height="23.40000000000009" fill="#ecec48" stroke="#8e7a2a" stroke-width="2"/>
<path d="M400,1182 L467,1182 M480,1182 L548,1182 M562,1182 L628,1182 M642,1182 L708,1182 M722,1182 L789,1182" stroke="#a8a0c8" stroke-width="2" stroke-dasharray="12 5" fill="none"/>
<rect x="1288.0" y="1204.5" width="14" height="24.299999999999955" fill="#ecec48" stroke="#8e7a2a" stroke-width="2"/>
<rect x="1465.0" y="1204" width="16" height="23" fill="#ecec48" stroke="#8e7a2a" stroke-width="2"/>
<rect x="1626.5" y="1158.3" width="17" height="22.200000000000045" fill="#ecec48" stroke="#8e7a2a" stroke-width="2"/>
<rect x="868.6" y="1444.2" width="16" height="21.799999999999955" fill="#ecec48" stroke="#8e7a2a" stroke-width="2"/>
<rect x="1029.4" y="1444.8" width="15" height="22.799999999999955" fill="#ecec48" stroke="#8e7a2a" stroke-width="2"/>
<rect x="1110.5" y="1444.8" width="15" height="22.799999999999955" fill="#ecec48" stroke="#8e7a2a" stroke-width="2"/>
<rect x="1191.1" y="1444.8" width="15" height="22.799999999999955" fill="#ecec48" stroke="#8e7a2a" stroke-width="2"/>
<path d="M1125,1467.5 L1191,1467.5" stroke="#a8a0c8" stroke-width="2" stroke-dasharray="12 5" fill="none"/>
<rect x="147" y="1480" width="10" height="13.5" fill="#ffffff"/>
<path d="M145,1481 L159,1481 L152,1488 Z" fill="#15133a"/>
<path d="M144.5,1488.8 L152,1493.5 L159.5,1488.8" fill="none" stroke="#15133a" stroke-width="2.8"/>
<rect x="308" y="1480" width="10" height="13.5" fill="#ffffff"/>
<path d="M306,1481 L320,1481 L313,1488 Z" fill="#15133a"/>
<path d="M305.5,1488.8 L313,1493.5 L320.5,1488.8" fill="none" stroke="#15133a" stroke-width="2.8"/>
<rect x="871.6" y="1637" width="10" height="14" fill="#ffffff"/>
<path d="M869.1,1642.5 L876.6,1638 L884.1,1642.5" fill="none" stroke="#15133a" stroke-width="2.8"/>
<path d="M869.6,1651 L883.6,1651 L876.6,1644 Z" fill="#15133a"/>
<rect x="1376.8" y="1843" width="10" height="14" fill="#ffffff"/>
<path d="M1374.3,1848.2 L1381.8,1843.7 L1389.3,1848.2" fill="none" stroke="#15133a" stroke-width="2.8"/>
<path d="M1374.8,1856.7 L1388.8,1856.7 L1381.8,1849.7 Z" fill="#15133a"/>
<line x1="593.5" y1="1986.3" x2="593.5" y2="2034.5" stroke="#55538a" stroke-width="4.7"/>
<ellipse cx="593.5" cy="1986.3" rx="17" ry="13.600000000000001" fill="#07061c"/>
<rect x="581.0" y="2032.35" width="25.0" height="4.3" fill="#120c3a"/>
<circle cx="593.5" cy="1986.3" r="11.5" fill="#ffffff" stroke="#07061c" stroke-width="5"/>
<text x="593.5" y="2060" text-anchor="middle" class="gl">G10</text>
<line x1="1633.4" y1="1986" x2="1633.4" y2="2034" stroke="#07061c" stroke-width="4"/>
<rect x="1620.9" y="2031.85" width="25.0" height="4.3" fill="#120c3a"/>
<circle cx="1633.4" cy="1986" r="10" fill="#ffffff" stroke="#07061c" stroke-width="3.4"/>
<text x="1633.4" y="2058.5" text-anchor="middle" class="gl">G14</text>
<text x="239" y="1200.4" class="cl">C04</text>
<text x="218" y="1201" text-anchor="end" class="pn">1</text>
<text x="381" y="1201" text-anchor="end" class="pn">3</text>
<text x="463" y="1201" text-anchor="end" class="pn">51</text>
<text x="543" y="1201" text-anchor="end" class="pn">53</text>
<text x="624" y="1201" text-anchor="end" class="pn">61</text>
<text x="704" y="1201" text-anchor="end" class="pn">78</text>
<text x="786" y="1201" text-anchor="end" class="pn">80</text>
<text x="806.7" y="1201" class="cl">C26</text>
<text x="162.4" y="1510" class="cl">C35</text>
<text x="138" y="1510" text-anchor="end" class="pn">1</text>
<text x="323.6" y="1510" class="cl">C34</text>
<text x="303" y="1510" text-anchor="end" class="pn">6</text>
<text x="891" y="1488" class="cl">M59</text>
<text x="864" y="1488" text-anchor="end" class="pn">2</text>
<text x="891" y="1633" class="cl">MC01</text>
<text x="864" y="1633" text-anchor="end" class="pn">12</text>
<text x="1047.9" y="1488" class="cl">C37-1</text>
<text x="1026" y="1488" text-anchor="end" class="pn">10</text>
<text x="1133" y="1488" text-anchor="end" class="pn">1</text>
<text x="1187" y="1488" text-anchor="end" class="pn">14</text>
<text x="1208.9" y="1488" class="cl">C37-2</text>
<text x="1307" y="1246" class="clb">E27</text>
<text x="1284" y="1246" text-anchor="end" class="pnb">5</text>
<text x="1486.5" y="1246" class="clb">M19</text>
<text x="1461" y="1246" text-anchor="end" class="pn">2</text>
<text x="1644.5" y="1200.4" class="cl">M82</text>
<text x="1620" y="1201" text-anchor="end" class="pn">6</text>
<text x="1307" y="1425.5" class="cl">EM02</text>
<text x="1281" y="1425.5" text-anchor="end" class="pn">6</text>
<text x="1395.4" y="1840" class="cl">MC02</text>
<text x="1370" y="1838" text-anchor="end" class="pn">6</text>
<text x="1305" y="1664" text-anchor="end" class="nb">13</text>
<text x="1484.5" y="1664" text-anchor="end" class="nb">14</text>
<text x="848.5" y="1781" text-anchor="end" class="nb">15</text>
<rect x="1726.5" y="1222" width="129.5" height="144.4" fill="#625f8f" stroke="#8a88a8" stroke-width="2.5"/>
<text x="1800" y="1314.5" text-anchor="middle" class="pg">203</text>
<text transform="translate(1816.5,1716) rotate(-90)" class="vt" textLength="314" lengthAdjust="spacingAndGlyphs">ПРИЛОЖЕНИЯ</text>
<rect x="1830" y="0" width="32" height="3" fill="#000"/>
</svg>
<div class="ln full" style="top:694.5px;letter-spacing:1.0px"><b class="h">Соединение с «массой» (продолжение):</b> <b>1</b> — термовыключатель системы кондиционирования; <b>2</b> — выключатель блоки-<i class="bm"></i></div>
<div class="ln full" style="top:727.2px;letter-spacing:0.95px">ровки правой передней двери; <b>3</b> — привод блокировки правой передней двери; <b>4</b> — мотор очистителя ветрового стекла; <b>5</b> — блок<i class="bm"></i></div>
<div class="ln full" style="top:759.7px;letter-spacing:1.0px">управления автоматической коробой передач и ее замком, <b>6</b> — подрулевой переключатель; <b>7</b> — реле очистителя ветрового стек-<i class="bm"></i></div>
<div class="ln" style="top:791.4px">ла; <b>8</b> — датчик указателя уровня топлива и электродвигатель топливного насоса; <b>9</b> — комбинация приборов<i class="bm"></i></div>
<div class="ln full" style="top:2096.0px;letter-spacing:1.08px"><b class="h">Соединение с «массой» (продолжение):</b> <b>1</b> — датчик положения распределительного вала; <b>2</b> — блок управления двига-<i class="bm"></i></div>
<div class="ln full" style="top:2128.7px;letter-spacing:1.08px">телем; <b>3</b> — экран (щиток) импульсного генератора автоматической коробки передач; <b>4</b> — блок реле и предохранителей в мотор-<i class="bm"></i></div>
<div class="ln full" style="top:2161.3px">ном отсеке; <b>5</b> — реле стартера; <b>6</b> — блок реле в салоне; <b>7</b> — реле охранной сигнализации; <b>8</b> — блок управления дополнитель-<i class="bm"></i></div>
<div class="ln full" style="top:2192.3px">ной системой безопасности; <b>9</b> — датчик уровня тормозной жидкости; <b>10</b> — переключатель передач автоматической коробки<i class="bm"></i></div>
<div class="ln full" style="top:2224.7px">передач; <b>11</b> — антенна транспондера; <b>12</b> — блок управления автоматической коробкой передач; <b>13</b> — без охранной сигнали-<i class="bm"></i></div>
<div class="ln" style="top:2255.2px">зации; <b>14</b> — с охранной сигнализацией; <b>15</b> — только с иммобилайзером<i class="bm"></i></div>
</body></html>
